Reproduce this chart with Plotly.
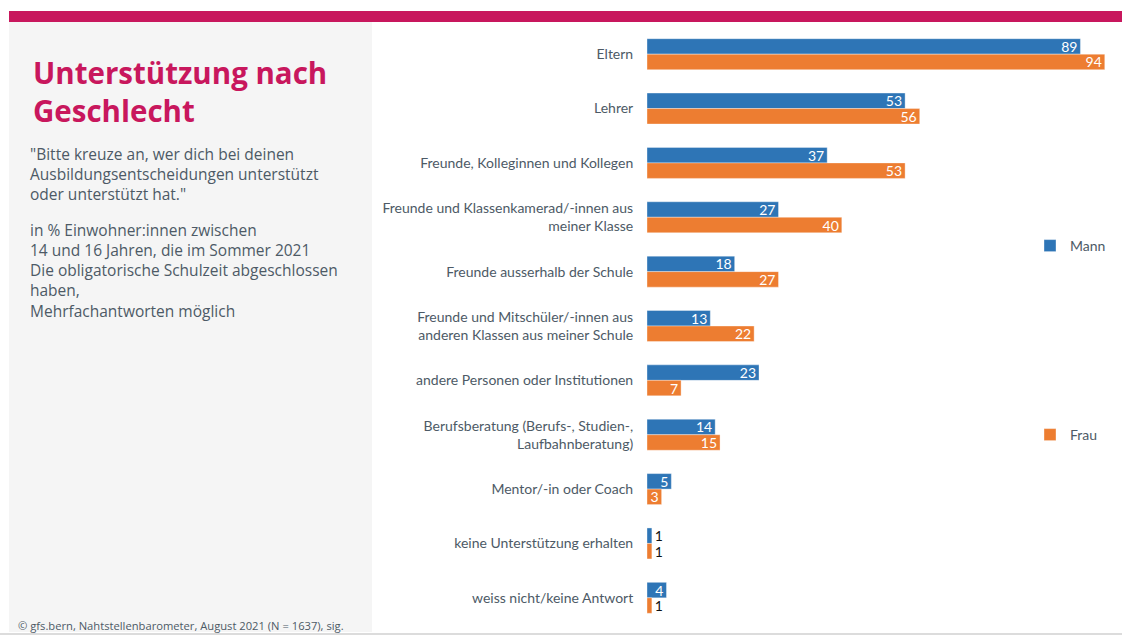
import plotly.graph_objects as go

categories = [
    "Eltern",
    "Lehrer",
    "Freunde, Kolleginnen und Kollegen",
    "Freunde und Klassenkamerad/-innen aus<br>meiner Klasse",
    "Freunde ausserhalb der Schule",
    "Freunde und Mitschüler/-innen aus<br>anderen Klassen aus meiner Schule",
    "andere Personen oder Institutionen",
    "Berufsberatung (Berufs-, Studien-,<br>Laufbahnberatung)",
    "Mentor/-in oder Coach",
    "keine Unterstützung erhalten",
    "weiss nicht/keine Antwort",
]
mann = [89, 53, 37, 27, 18, 13, 23, 14, 5, 1, 4]
frau = [94, 56, 53, 40, 27, 22, 7, 15, 3, 1, 1]

title_lines = ["Unterstützung nach", "Geschlecht"]
question_lines = [
    "\"Bitte kreuze an, wer dich bei deinen",
    "Ausbildungsentscheidungen unterstützt",
    "oder unterstützt hat.\"",
]
base_lines = [
    "in % Einwohner:innen zwischen",
    "14 und 16 Jahren, die im Sommer 2021",
    "Die obligatorische Schulzeit abgeschlossen",
    "haben,",
    "Mehrfachantworten möglich",
]
source_text = "© gfs.bern, Nahtstellenbarometer, August 2021 (N = 1637), sig."

W, H = 1122, 636
ML, MR, MT, MB = 647, 10, 27, 11
PW = W - ML - MR
PH = H - MT - MB
PX_PER_UNIT = 4.87
XMAX = PW / PX_PER_UNIT

def px(x):
    return (x - ML) / PW

def py(y):
    return (H - MB - y) / PH

LABEL_FONT = "Lato, Open Sans, sans-serif"
PANEL_FONT = "Open Sans, Lato, sans-serif"
GREY_TXT = "#4d5a66"
BLUE = "#2e75b6"
ORANGE = "#ed7d31"
MAGENTA = "#c8175d"

def positions(vals):
    return ["outside" if v <= 1 else "inside" for v in vals]

fig = go.Figure()
for name, vals, color, leg in [("Mann", mann, BLUE, "legend"), ("Frau", frau, ORANGE, "legend2")]:
    fig.add_trace(go.Bar(
        y=categories, x=vals, name=name, orientation="h",
        marker=dict(color=color, line=dict(color="rgba(255,255,255,0.6)", width=0.6)),
        text=[str(v) for v in vals], textposition=positions(vals), textangle=0,
        insidetextanchor="end", constraintext="none",
        insidetextfont=dict(color="white", size=14, family=LABEL_FONT),
        outsidetextfont=dict(color="#111111", size=14, family=LABEL_FONT),
        cliponaxis=False, legend=leg,
    ))

shapes = [
    dict(type="rect", xref="paper", yref="paper", x0=px(9), x1=px(372), y0=py(632), y1=py(22),
         fillcolor="#f5f5f5", line=dict(width=0), layer="below"),
    dict(type="rect", xref="paper", yref="paper", x0=px(9), x1=px(1122), y0=py(22), y1=py(11),
         fillcolor=MAGENTA, line=dict(width=0), layer="below"),
    dict(type="line", xref="paper", yref="paper", x0=px(0), x1=px(1122), y0=py(634), y1=py(634),
         line=dict(color="#d0d0d0", width=1.5)),
]

annotations = [
    dict(text="<b>" + "<br>".join(title_lines) + "</b>", x=px(31), y=py(91.5),
         xref="paper", yref="paper", xanchor="left", yanchor="middle", align="left",
         showarrow=False, font=dict(family=PANEL_FONT, size=29.5, color=MAGENTA)),
    dict(text="<br>".join(question_lines), x=px(28), y=py(174),
         xref="paper", yref="paper", xanchor="left", yanchor="middle", align="left",
         showarrow=False, font=dict(family=PANEL_FONT, size=15.5, color=GREY_TXT)),
    dict(text="<br>".join(base_lines), x=px(28), y=py(270),
         xref="paper", yref="paper", xanchor="left", yanchor="middle", align="left",
         showarrow=False, font=dict(family=PANEL_FONT, size=15.5, color=GREY_TXT)),
    dict(text=source_text, x=px(16), y=py(625), xref="paper", yref="paper",
         xanchor="left", yanchor="middle", align="left", showarrow=False,
         font=dict(family=PANEL_FONT, size=11.2, color=GREY_TXT)),
]

legend_common = dict(xanchor="left", yanchor="middle", bgcolor="rgba(0,0,0,0)",
                     font=dict(family=LABEL_FONT, size=14, color=GREY_TXT),
                     itemwidth=30, tracegroupgap=0, borderwidth=0)

fig.update_layout(
    width=W, height=H, autosize=False,
    margin=dict(l=ML, r=MR, t=MT, b=MB, pad=0),
    paper_bgcolor="white", plot_bgcolor="white",
    barmode="group", bargap=0.43, bargroupgap=0,
    font=dict(family=LABEL_FONT, color=GREY_TXT, size=14),
    xaxis=dict(range=[0, XMAX], visible=False, fixedrange=True),
    yaxis=dict(autorange="reversed", showgrid=False, zeroline=False, showline=False,
               ticks="outside", ticklen=10, tickcolor="rgba(0,0,0,0)",
               tickfont=dict(family=LABEL_FONT, size=14, color=GREY_TXT), fixedrange=True),
    legend=dict(x=px(1030), y=py(246), **legend_common),
    legend2=dict(x=px(1030), y=py(435), **legend_common),
    shapes=shapes,
    annotations=annotations,
    showlegend=True,
)

fig.write_html("out.html", config={"displayModeBar": False},
               post_script="document.body.style.margin='0';")
